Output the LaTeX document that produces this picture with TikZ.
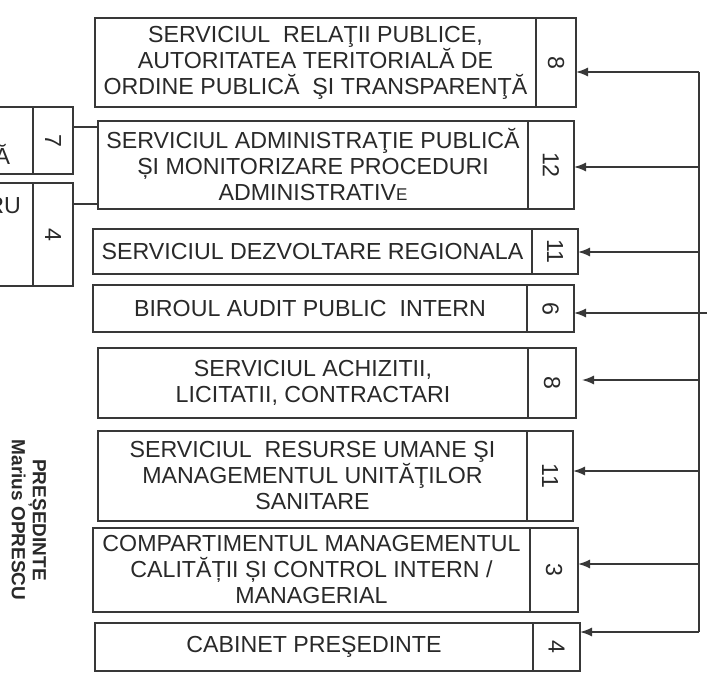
\documentclass[tikz,border=0pt]{standalone}
\usepackage{fontspec}
\setmainfont{Liberation Sans}
\usetikzlibrary{arrows.meta}
\definecolor{scan ink}{rgb}{0.22, 0.22, 0.22}
\definecolor{scan text}{rgb}{0.16, 0.16, 0.16}

\tikzset{
	cell/.style={draw=scan ink, line width=1.6pt, inner sep=0pt, outer sep=0pt,
		align=center, text=scan text, font=\fontsize{23.2}{26}\selectfont},
	numcell/.style={cell, anchor=west},
	feed/.style={draw=scan ink, line width=1.5pt, -{Latex[length=12pt, width=9pt]}},
	link/.style={draw=scan ink, line width=1.5pt}
}

\begin{document}
\begin{tikzpicture}[x=1pt, y=-1pt]
			\clip (0, 0) rectangle (707, 685);
			\fill[white] (0, 0) rectangle (707, 685);
			% departments
			\node[cell, minimum width=441, minimum height=89] (srp) at (315.5, 62.5)
				{SERVICIUL\ \ RELAŢII PUBLICE,\\AUTORITATEA TERITORIALĂ DE\\ORDINE PUBLICĂ\ \ ŞI TRANSPARENŢĂ};
			\node[numcell, minimum width=40, minimum height=89] (srpn) at (srp.east) {\rotatebox{-90}{8}};
			\node[cell, minimum width=430, minimum height=88] (sap) at (313, 165)
				{SERVICIUL ADMINISTRAŢIE PUBLICĂ\\ȘI MONITORIZARE PROCEDURI\\ADMINISTRATIV{\fontsize{17}{26}\selectfont E}};
			\node[numcell, minimum width=46, minimum height=88] (sapn) at (sap.east) {\rotatebox{-90}{12}};
			\node[cell, minimum width=439, minimum height=45] (sdr) at (312.5, 251.5)
				{SERVICIUL DEZVOLTARE REGIONALA};
			\node[numcell, minimum width=46, minimum height=45] (sdrn) at (sdr.east) {\rotatebox{-90}{11}};
			\node[cell, minimum width=434, minimum height=47] (bapi) at (310, 308.5)
				{BIROUL AUDIT PUBLIC\ \ INTERN};
			\node[numcell, minimum width=47, minimum height=47] (bapin) at (bapi.east) {\rotatebox{-90}{6}};
			\node[cell, minimum width=430, minimum height=70] (sal) at (313, 383)
				{SERVICIUL ACHIZITII,\\LICITATII, CONTRACTARI};
			\node[numcell, minimum width=48, minimum height=70] (saln) at (sal.east) {\rotatebox{-90}{8}};
			\node[cell, minimum width=429, minimum height=90] (srum) at (312.5, 476)
				{SERVICIUL\ \ RESURSE UMANE ŞI\\MANAGEMENTUL UNITĂŢILOR\\SANITARE};
			\node[numcell, minimum width=46, minimum height=90] (srumn) at (srum.east) {\rotatebox{-90}{11}};
			\node[cell, minimum width=437, minimum height=84] (cmc) at (311.5, 570)
				{COMPARTIMENTUL MANAGEMENTUL\\CALITĂȚII ȘI CONTROL INTERN /\\MANAGERIAL};
			\node[numcell, minimum width=48, minimum height=84] (cmcn) at (cmc.east) {\rotatebox{-90}{3}};
			\node[cell, minimum width=438, minimum height=48] (cab) at (314, 647)
				{CABINET PREŞEDINTE};
			\node[numcell, minimum width=47, minimum height=48] (cabn) at (cab.east) {\rotatebox{-90}{4}};
			% cut-off boxes on the left
			\node[cell, minimum width=60, minimum height=67] (lone) at (3, 140.5) {};
			\node[numcell, minimum width=40, minimum height=67] (lonen) at (lone.east) {\rotatebox{-90}{7}};
			\node[cell, minimum width=60, minimum height=103] (ltwo) at (3, 234.5) {};
			\node[numcell, minimum width=40, minimum height=103] (ltwon) at (ltwo.east) {\rotatebox{-90}{4}};
			\node[cell, draw=none, anchor=base east] (lonet) at (10, 164) {Ă};
			\node[cell, draw=none, anchor=base east] (ltwot) at (21, 213) {RU};
			\coordinate (cone) at (73, 127);
			\coordinate (ctwo) at (73, 204);
			\draw[link] (cone) -- (cone -| sap.west);
			\draw[link] (ctwo) -- (ctwo -| sap.west);
			% president
			\node[rotate=-90, align=center, text=scan text,
				font=\bfseries\fontsize{19}{21}\selectfont] (pres) at (29, 520)
				{PREȘEDINTE\\Marius OPRESCU};
			% bus on the right
			\coordinate (aone) at (699, 72);
			\coordinate (atwo) at (699, 167);
			\coordinate (athree) at (699, 252);
			\coordinate (afour) at (707, 313);
			\coordinate (afive) at (699, 380);
			\coordinate (asix) at (699, 471);
			\coordinate (aseven) at (699, 564);
			\coordinate (aeight) at (699, 632);
			\draw[link] (aone) -- (aeight);
			\draw[feed] (aone) -- (aone -| srpn.east);
			\draw[feed] (atwo) -- (atwo -| sapn.east);
			\draw[feed] (athree) -- (athree -| sdrn.east);
			\draw[feed] (afour) -- (afour -| bapin.east);
			\draw[feed, shorten >=6pt] (afive) -- (afive -| saln.east);
			\draw[feed] (asix) -- (asix -| srumn.east);
			\draw[feed] (aseven) -- (aseven -| cmcn.east);
			\draw[feed] (aeight) -- (aeight -| cabn.east);
		\end{tikzpicture}
\end{document}
